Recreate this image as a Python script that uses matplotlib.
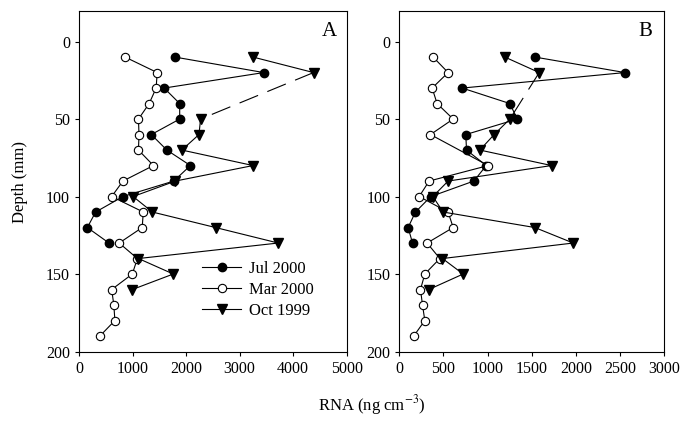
import numpy as np
import matplotlib
matplotlib.use("Agg")
import matplotlib.pyplot as plt

plt.rcParams['font.family'] = ['Liberation Serif', 'DejaVu Serif']
plt.rcParams['mathtext.fontset'] = 'stix'

depth = [10, 20, 30, 40, 50, 60, 70, 80, 90, 100,
         110, 120, 130, 140, 150, 160, 170, 180, 190]
nan = np.nan

# panel A
jul_a = [1790, 3450, 1590, 1880, 1880, 1350, 1640, 2080, 1770, 820,
         310, 155, 560, nan, nan, nan, nan, nan, nan]
mar_a = [860, 1460, 1440, 1310, 1110, 1120, 1110, 1390, 820, 610,
         1200, 1180, 750, 1090, 995, 610, 650, 670, 390]
oct_a = [3250, 4380, nan, nan, 2270, 2240, 1920, 3250, 1800, 1010,
         1370, 2550, 3720, 1110, 1760, 995, nan, nan, nan]

# panel B
jul_b = [1535, 2555, 712, 1252, 1335, 753, 761, 985, 844, 357,
         183, 100, 150, nan, nan, nan, nan, nan, nan]
mar_b = [383, 553, 372, 428, 610, 353, nan, 1006, 338, 225,
         553, 610, 315, 459, 289, 240, 263, 289, 164]
oct_b = [1195, 1584, nan, nan, 1252, 1074, 912, 1724, 553, 380,
         497, 1535, 1969, 489, 723, 334, nan, nan, nan]

labels = ['Jul 2000', 'Mar 2000', 'Oct 1999']

fig = plt.figure(figsize=(6.83, 4.23), dpi=100)
axA = fig.add_axes([0.1157, 0.169, 0.392, 0.806])
axB = fig.add_axes([0.5846, 0.169, 0.388, 0.806])


def draw_series(ax, x, style, label, gap_dashed):
    x = np.array(x, dtype=float)
    d = np.array(depth, dtype=float)
    ok = ~np.isnan(x)
    if gap_dashed:
        ax.plot(x, d, label=label, color='black', lw=0.8, **style)
        idx = np.where(ok)[0]
        for i, j in zip(idx[:-1], idx[1:]):
            if j - i > 1:
                ax.plot([x[i], x[j]], [d[i], d[j]], color='black', lw=0.8,
                        dashes=(18, 9), zorder=1)
    else:
        # missing depths simply skipped
        ax.plot(x[ok], d[ok], label=label, color='black', lw=0.8, **style)


styles = [dict(marker='o', ms=6, mfc='black', mec='black'),
          dict(marker='o', ms=6, mfc='white', mec='black', mew=0.8),
          dict(marker='v', ms=6.5, mfc='black', mec='black')]
dashed_gap = [False, False, True]

for ax, series in [(axA, [jul_a, mar_a, oct_a]), (axB, [jul_b, mar_b, oct_b])]:
    for x, st, lab, g in zip(series, styles, labels, dashed_gap):
        draw_series(ax, x, st, lab, g)
    ax.set_ylim(200, -20)
    ax.set_yticks([0, 50, 100, 150, 200])
    ax.tick_params(direction='out', length=3, width=0.8, labelsize=11.5)
    for s in ax.spines.values():
        s.set_linewidth(0.8)

axA.set_xlim(0, 5000)
axA.set_xticks([0, 1000, 2000, 3000, 4000, 5000])
axB.set_xlim(0, 3000)
axB.set_xticks([0, 500, 1000, 1500, 2000, 2500, 3000])

axA.text(0.935, 0.94, 'A', transform=axA.transAxes, fontsize=15,
         ha='center', va='center')
axB.text(0.93, 0.94, 'B', transform=axB.transAxes, fontsize=15,
         ha='center', va='center')

axA.legend(loc='upper left', bbox_to_anchor=(0.43, 0.29), frameon=False,
           fontsize=12, handlelength=2.3, handletextpad=0.5,
           labelspacing=0.3, borderpad=0)

fig.text(20 / 683, 0.57, 'Depth (mm)', rotation=90, fontsize=12,
         ha='center', va='center')
fig.text(372 / 683, 1 - 405 / 423, 'RNA (ng cm$^{-3}$)', fontsize=12,
         ha='center', va='center')

fig.savefig('out.png', dpi=100)
